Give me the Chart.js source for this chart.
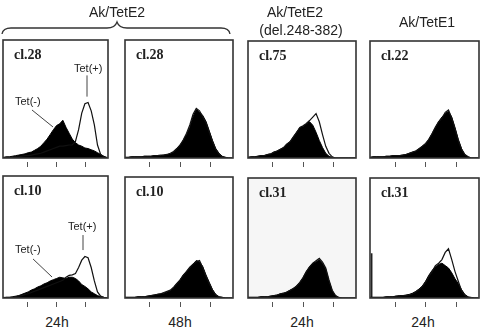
<!DOCTYPE html>
<html>
<head>
<meta charset="utf-8">
<script src="https://cdn.jsdelivr.net/npm/chart.js@4.4.1/dist/chart.umd.min.js"></script>
<style>
  body { margin: 0; background: #fff; }
  #figur { position: relative; width: 483px; height: 331px; overflow: hidden; background: #fff; }
  .panel { position: absolute; }
  .txt { position: absolute; white-space: nowrap; color: #222; line-height: 1; }
  .rubrik { font-family: "Liberation Sans", Arial, sans-serif; font-size: 14px; width: 120px; text-align: center; }
  .klon { font-family: "Liberation Serif", "Times New Roman", serif; font-weight: bold; font-size: 14px; }
  .tet { font-family: "Liberation Sans", Arial, sans-serif; font-size: 11px; }
</style>
</head>
<body>
<div id="figur">
  <!-- klammern över de två första kolumnerna -->
  <svg width="483" height="40" style="position:absolute;left:0;top:0">
    <path d="M2,34 Q3,28 11,28 L107,28 Q115,28 117,22 Q119,28 127,28 L221,28 Q229,28 230,34"
          fill="none" stroke="#333" stroke-width="1.3"/>
  </svg>
</div>

<script>
// Kanaler (x-läge i procent av panelens bredd) som alla histogram delar
const kanaler = [0, 3, 6, 9, 12, 15, 18, 21, 24, 27, 30, 33, 36, 39, 42, 45, 48,
                 51, 54, 57, 60, 63, 66, 69, 72, 75, 78, 81, 84, 87, 90, 93, 96, 99];

// Histogramvärden (procent av panelens höjd), Tet(-) fylld och Tet(+) kontur
const p1Neg = [0.5, 1, 1, 1.5, 2, 2.5, 3, 3.5, 4.5, 5, 6.5, 8, 10, 13, 16, 20, 24, 27.5, 29, 32, 26, 21, 16, 13, 11, 10, 8.5, 8, 7, 6, 4.5, 3, 1.5, 0.5];
const p1Pos = [0, 0.5, 0.5, 0.5, 1, 1, 1.5, 2, 2, 2.5, 3, 3.5, 4, 5, 6, 7, 8, 9, 10, 10, 10.5, 11, 11, 14, 24, 38, 46, 47, 40, 28, 11, 3, 1, 0];

const p2Neg = [0.5, 0.5, 1, 1, 1, 1, 1.5, 1.5, 1.5, 2, 2, 2, 2.5, 3, 3.5, 5, 8, 11, 15, 20, 26, 35, 41, 39, 36, 31, 23, 15, 8, 4, 1.5, 0.5, 0, 0];
const p2Pos = [0.5, 0.5, 1, 1, 1, 1, 1.5, 1.5, 1.5, 2, 2, 2.5, 2.5, 3, 4, 5.5, 8, 11, 15.5, 21, 28, 37, 42, 40, 35, 30, 22, 14, 7.5, 3.5, 1, 0.5, 0, 0];

const p3Neg = [0.5, 1, 1, 1.5, 2, 2, 3, 3.5, 5, 6, 7.5, 9, 12, 14, 18, 22, 26, 27, 29, 31, 28, 22, 15, 9, 4, 1.5, 0.5, 0, 0, 0, 0, 0, 0, 0];
const p3Pos = [0.5, 1, 1, 1.5, 2, 2, 3, 3.5, 5, 6, 7.5, 9, 12, 14, 18, 22, 26, 27.5, 29.5, 32, 35, 38, 31, 20, 10, 4, 1, 0, 0, 0, 0, 0, 0, 0];

const p4Neg = [0.5, 1, 1, 1, 1, 1.5, 1.5, 2, 2, 2, 2.5, 3, 4, 5, 6, 8, 10, 12, 16, 21, 26, 31, 35, 38, 40, 35, 26, 16, 8, 3, 1, 0, 0, 0];
const p4Pos = [0.5, 1, 1, 1, 1, 1.5, 1.5, 2, 2, 2, 2.5, 3, 4, 5, 6, 8, 10, 12.5, 16, 21, 26.5, 31, 34, 39, 41, 34, 25, 15, 7.5, 3, 1, 0, 0, 0];

const p5Neg = [0.5, 0.5, 0.5, 1, 1.5, 2, 3, 4, 5, 6.5, 7.5, 9, 10, 11.5, 12.5, 14, 15, 16, 17, 16.5, 16, 17, 17, 16, 14, 11, 9.5, 7.5, 5, 3.5, 2, 1, 0.5, 0];
const p5Pos = [0, 0.5, 0.5, 0.5, 1, 1.5, 2, 3, 3.5, 4.5, 5.5, 6.5, 7.5, 8.5, 9.5, 10.5, 11.5, 12.5, 13.5, 14.5, 17, 18.5, 19, 20, 25, 31, 34, 33, 25, 14, 5, 1.5, 0.5, 0];

const p6Neg = [0.5, 0.5, 0.5, 0.5, 1, 1, 1, 1.5, 2, 2.5, 3, 3.5, 4, 5, 6, 8.5, 12, 15, 19, 22, 25, 28, 31, 30, 26, 19, 13, 7, 3, 1, 0.5, 0, 0, 0];
const p6Pos = [0.5, 0.5, 0.5, 0.5, 1, 1, 1, 1.5, 2, 2.5, 3, 3.5, 4.5, 5.5, 6.5, 9, 12, 15, 19, 22, 25.5, 28, 30, 31, 25, 18, 12, 6.5, 2.5, 1, 0.5, 0, 0, 0];

const p7Neg = [0.5, 0.5, 0.5, 0.5, 1, 1, 1, 1.5, 2, 2.5, 3.5, 4, 5, 6.5, 8, 10, 13, 17, 22, 26, 29, 30, 32, 29, 24, 14, 6, 2, 0.5, 0, 0, 0, 0, 0];
const p7Pos = [0.5, 0.5, 0.5, 0.5, 1, 1, 1, 1.5, 2, 2.5, 3.5, 4, 5, 6.5, 8, 10, 13, 17, 22, 26, 29, 31, 33, 30, 25, 15, 6.5, 2, 0.5, 0, 0, 0, 0, 0];

const p8Neg = [0.5, 0.5, 0.5, 0.5, 0.5, 1, 1, 1, 1.5, 2, 2, 2.5, 3, 4, 5.5, 7.5, 10, 14, 19, 23, 26, 28, 29, 27, 25, 21, 16, 12, 7, 3, 1, 0.5, 0, 0];
const p8Pos = [0.5, 0.5, 0.5, 0.5, 0.5, 1, 1, 1, 1.5, 1.5, 2, 2, 2.5, 3.5, 5, 7, 9.5, 13, 18, 22, 27, 29, 32, 38, 41, 32, 22, 14, 6, 2, 0.5, 0, 0, 0];
// den smala toppen i allra första kanalen (Tet(+), panel 8)
const p8Kant = [{ kanal: 1.5, varde: 37 }];

// Lägen för skalstrecken under varje panel (samma x-enhet som kanalerna)
const skalstreck = [22.5, 50.5, 78.5];

// Texter
const klonEtiketter = ['cl.28', 'cl.28', 'cl.75', 'cl.22', 'cl.10', 'cl.10', 'cl.31', 'cl.31'];
const tidEtiketter = ['24h', '48h', '24h', '24h'];
const gruppEtiketter = ['Ak/TetE2', 'Ak/TetE2', '(del.248-382)', 'Ak/TetE1'];

// Panelernas placering på sidan (rutans kant) och vilka serier som hör dit
const paneler = [
    { x: 3,   y: 40,  w: 105, h: 118, neg: p1Neg, pos: p1Pos },
    { x: 125, y: 40,  w: 108, h: 118, neg: p2Neg, pos: p2Pos },
    { x: 248, y: 41,  w: 108, h: 117, neg: p3Neg, pos: p3Pos },
    { x: 370, y: 41,  w: 109, h: 117, neg: p4Neg, pos: p4Pos },
    { x: 3,   y: 176, w: 105, h: 122, neg: p5Neg, pos: p5Pos },
    { x: 125, y: 177, w: 108, h: 121, neg: p6Neg, pos: p6Pos },
    { x: 248, y: 178, w: 108, h: 120, neg: p7Neg, pos: p7Pos, bg: '#f6f6f6' },
    { x: 370, y: 178, w: 109, h: 120, neg: p8Neg, pos: p8Pos, kant: p8Kant }
];

// Pekarlinjer till Tet(+)/Tet(-) i dataenheter [x1, y1, x2, y2]
paneler[0].pekare = [[80, 70, 80, 52], [27.6, 40.7, 47.6, 26.3]];
paneler[4].pekare = [[76.2, 51.6, 76.2, 39.3], [28.6, 32, 46.7, 17.2]];

const figur = document.getElementById('figur');

// Hjälpfunktion som lägger till en textruta
function laggTillText(text, klass, left, top) {
    const el = document.createElement('div');
    el.className = 'txt ' + klass;
    el.textContent = text;
    el.style.left = left + 'px';
    el.style.top = top + 'px';
    figur.appendChild(el);
    return el;
}

// Plugin som ritar bakgrund, ram, skalstreck och pekarlinjer
const panelRitare = {
    id: 'panelRitare',
    beforeDatasetsDraw(chart, args, opts) {
        const ca = chart.chartArea;
        const ctx = chart.ctx;
        ctx.save();
        ctx.fillStyle = opts.bg || '#ffffff';
        ctx.fillRect(ca.left, ca.top, ca.right - ca.left, ca.bottom - ca.top);
        ctx.restore();
    },
    afterDatasetsDraw(chart, args, opts) {
        const ca = chart.chartArea;
        const ctx = chart.ctx;
        const xs = chart.scales.x;
        const ys = chart.scales.y;
        ctx.save();
        // ramen runt panelen
        ctx.strokeStyle = '#333';
        ctx.lineWidth = 1.6;
        ctx.strokeRect(ca.left, ca.top, ca.right - ca.left, ca.bottom - ca.top);
        // skalstrecken under ramen
        ctx.lineWidth = 1;
        ctx.strokeStyle = '#555';
        skalstreck.forEach(v => {
            const px = Math.round(xs.getPixelForValue(v)) + 0.5;
            ctx.beginPath();
            ctx.moveTo(px, ca.bottom + 4);
            ctx.lineTo(px, ca.bottom + 9);
            ctx.stroke();
        });
        // pekarlinjer
        ctx.strokeStyle = '#444';
        ctx.lineWidth = 1;
        (opts.pekare || []).forEach(p => {
            ctx.beginPath();
            ctx.moveTo(xs.getPixelForValue(p[0]), ys.getPixelForValue(p[1]));
            ctx.lineTo(xs.getPixelForValue(p[2]), ys.getPixelForValue(p[3]));
            ctx.stroke();
        });
        ctx.restore();
    }
};

// Skapar ett diagram per panel
paneler.forEach((p, i) => {
    const canvas = document.createElement('canvas');
    canvas.className = 'panel';
    canvas.width = p.w + 2;
    canvas.height = p.h + 13;
    canvas.style.left = (p.x - 1) + 'px';
    canvas.style.top = (p.y - 1) + 'px';
    figur.appendChild(canvas);

    const dataset = [
        {
            label: 'Tet(+)',
            data: kanaler.map((k, j) => ({ x: k, y: p.pos[j] })),
            borderColor: '#111',
            borderWidth: 1.2,
            fill: false,
            pointRadius: 0,
            tension: 0,
            order: 0
        },
        {
            label: 'Tet(-)',
            data: kanaler.map((k, j) => ({ x: k, y: p.neg[j] })),
            borderColor: '#000',
            backgroundColor: '#000',
            borderWidth: 1,
            fill: 'origin',
            pointRadius: 0,
            tension: 0,
            order: 1
        }
    ];
    // enstaka smal topp vid kanten ritas som en tunn stapel
    if (p.kant) {
        dataset.push({
            type: 'bar',
            label: 'kant',
            data: p.kant.map(d => ({ x: d.kanal, y: d.varde })),
            backgroundColor: '#222',
            barThickness: 1,
            order: 2
        });
    }

    new Chart(canvas.getContext('2d'), {
        type: 'line',
        data: { datasets: dataset },
        options: {
            responsive: false,
            animation: false,
            devicePixelRatio: 1,
            layout: { padding: { top: 1, left: 1, right: 1, bottom: 12 } },
            scales: {
                x: { type: 'linear', min: 0, max: 100, display: false, offset: false },
                y: { min: 0, max: 100, display: false }
            },
            plugins: {
                legend: { display: false },
                tooltip: { enabled: false },
                panelRitare: { bg: p.bg, pekare: p.pekare }
            }
        },
        plugins: [panelRitare]
    });

    // klonnamnet uppe till vänster i panelen
    laggTillText(klonEtiketter[i], 'klon', p.x + 11, p.y + 8);
});

// Gruppnamn överst
laggTillText(gruppEtiketter[0], 'rubrik', 117 - 60, 5);
laggTillText(gruppEtiketter[1], 'rubrik', 295 - 60, 5);
laggTillText(gruppEtiketter[2], 'rubrik', 301 - 60, 23);
laggTillText(gruppEtiketter[3], 'rubrik', 427 - 60, 15);

// Tidpunkter under kolumnerna
const tidMitt = [57, 180, 302, 423];
tidEtiketter.forEach((t, i) => laggTillText(t, 'rubrik', tidMitt[i] - 60, 315));

// Tet-etiketterna i de vänstra panelerna
laggTillText('Tet(+)', 'tet', 74, 63);
laggTillText('Tet(-)', 'tet', 15, 96);
laggTillText('Tet(+)', 'tet', 68, 221);
laggTillText('Tet(-)', 'tet', 15, 244);
</script>
</body>
</html>
